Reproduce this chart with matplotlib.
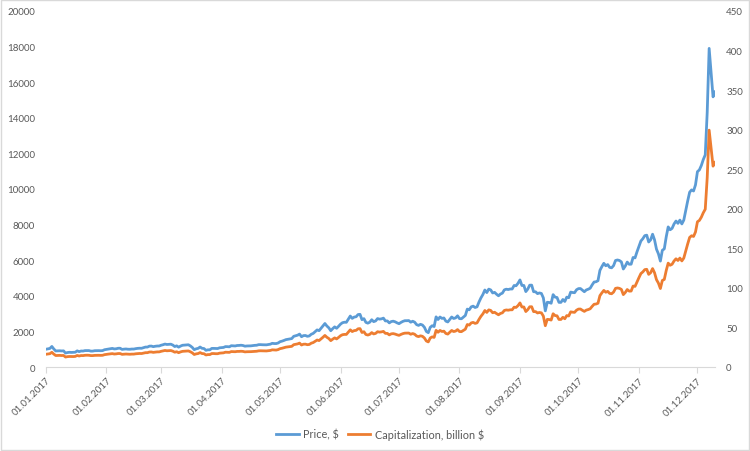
import matplotlib
matplotlib.use('Agg')
import matplotlib.pyplot as plt
import matplotlib.dates as mdates
import pandas as pd

# daily closes, 01.01.2017 - 10.12.2017, one list per month
price_jan = [998, 1021, 1043, 1154, 1013, 902, 908, 911, 902, 907, 785, 812, 826, 818, 822, 831,
             907, 862, 899, 895, 921, 924, 922, 892, 894, 915, 918, 919, 914, 920, 970]
price_feb = [989, 1008, 1029, 1045, 1015, 1024, 1052, 1054, 988, 1004, 1013, 999, 996, 1009, 1008,
             1031, 1047, 1055, 1052, 1085, 1120, 1120, 1171, 1176, 1143, 1165, 1179, 1180]
price_mar = [1222, 1251, 1288, 1265, 1275, 1281, 1233, 1150, 1188, 1116, 1176, 1221, 1231, 1240, 1249,
             1187, 1100, 973, 1022, 1047, 1123, 1050, 1038, 938, 965, 966, 1045, 1045, 1038, 1037, 1079]
price_apr = [1087, 1099, 1145, 1143, 1134, 1196, 1191, 1182, 1208, 1212, 1223, 1207, 1170, 1182, 1185,
             1188, 1205, 1216, 1222, 1255, 1257, 1250, 1250, 1245, 1265, 1282, 1330, 1317, 1316, 1348]
price_may = [1421, 1452, 1491, 1537, 1555, 1578, 1596, 1723, 1755, 1787, 1849, 1701, 1763, 1770, 1724,
             1746, 1839, 1888, 1987, 2084, 2041, 2174, 2303, 2443, 2304, 2202, 2038, 2155, 2255, 2175, 2286]
price_jun = [2407, 2488, 2515, 2512, 2691, 2863, 2732, 2805, 2823, 2947, 2958, 2660, 2717, 2507, 2464,
             2518, 2655, 2548, 2589, 2721, 2689, 2705, 2745, 2589, 2589, 2478, 2552, 2574, 2539, 2480]
price_jul = [2434, 2506, 2564, 2601, 2601, 2608, 2518, 2571, 2519, 2381, 2337, 2398, 2358, 2233, 1998,
             1929, 2228, 2319, 2273, 2817, 2668, 2810, 2730, 2754, 2577, 2530, 2671, 2810, 2726, 2758, 2875]
price_aug = [2718, 2710, 2804, 2895, 3253, 3213, 3378, 3419, 3342, 3381, 3651, 3884, 4073, 4325, 4181,
             4376, 4331, 4160, 4193, 4088, 4001, 4100, 4151, 4334, 4371, 4352, 4382, 4382, 4579, 4565, 4703]
price_sep = [4892, 4579, 4582, 4236, 4376, 4597, 4599, 4229, 4226, 4122, 4161, 4130, 3882, 3154, 3637,
             3625, 3582, 4065, 3924, 3905, 3631, 3630, 3792, 3682, 3926, 3892, 4208, 4185, 4174, 4338]
price_oct = [4403, 4409, 4317, 4229, 4328, 4370, 4426, 4611, 4773, 4789, 4848, 5429, 5640, 5825, 5687,
             5754, 5595, 5573, 5696, 5983, 6013, 5983, 5904, 5505, 5670, 5893, 5772, 5776, 6154, 6130, 6469]
price_nov = [6767, 7078, 7207, 7379, 7407, 7023, 7144, 7459, 7143, 6618, 6357, 5950, 6559, 6635, 7315,
             7871, 7708, 7790, 8036, 8200, 8071, 8253, 8038, 8253, 8791, 9330, 9819, 9949, 9889, 10233]
price_dec = [10975, 11075, 11323, 11657, 11916, 14291, 17899, 16569, 15178, 15455]

# capitalization, billion $
cap_jan = [16.1, 16.4, 16.8, 18.6, 16.3, 14.5, 14.6, 14.7, 14.5, 14.6, 12.6, 13.1, 13.3, 13.2, 13.2, 13.4,
           14.6, 13.9, 14.5, 14.4, 14.8, 14.9, 14.8, 14.4, 14.4, 14.7, 14.8, 14.8, 14.7, 14.8, 15.6]
cap_feb = [16.0, 16.3, 16.6, 16.9, 16.4, 16.6, 17.0, 17.0, 16.0, 16.2, 16.4, 16.2, 16.1, 16.3, 16.3,
           16.7, 16.9, 17.1, 17.0, 17.5, 18.1, 18.1, 18.9, 19.0, 18.5, 18.8, 19.1, 19.1]
cap_mar = [19.8, 20.3, 20.9, 20.5, 20.7, 20.8, 20.0, 18.7, 19.3, 18.1, 19.1, 19.8, 20.0, 20.1, 20.3,
           19.3, 17.9, 15.8, 16.6, 17.0, 18.2, 17.0, 16.8, 15.2, 15.7, 15.7, 17.0, 17.0, 16.8, 16.8, 17.5]
cap_apr = [17.7, 17.9, 18.7, 18.6, 18.5, 19.5, 19.4, 19.3, 19.7, 19.7, 19.9, 19.7, 19.1, 19.3, 19.3,
           19.4, 19.6, 19.8, 19.9, 20.4, 20.5, 20.4, 20.4, 20.3, 20.6, 20.9, 21.7, 21.5, 21.4, 22.0]
cap_may = [23.2, 23.7, 24.4, 25.1, 25.4, 25.8, 26.1, 28.2, 28.7, 29.2, 30.2, 27.8, 28.8, 28.9, 28.2,
           28.5, 30.1, 30.9, 32.5, 34.1, 33.4, 35.5, 37.6, 39.9, 37.6, 36.0, 33.3, 35.2, 36.8, 35.5, 37.4]
cap_jun = [39.5, 40.8, 41.2, 41.2, 44.1, 47.0, 44.8, 46.0, 46.3, 48.3, 48.5, 43.6, 44.6, 41.1, 40.4,
           41.3, 43.5, 41.8, 42.5, 44.6, 44.1, 44.4, 45.0, 42.5, 42.5, 40.6, 41.9, 42.2, 41.6, 40.7]
cap_jul = [40.0, 41.2, 42.2, 42.8, 42.8, 42.9, 41.4, 42.3, 41.4, 39.2, 38.4, 39.4, 38.8, 36.7, 32.9,
           31.7, 36.7, 38.1, 37.4, 46.3, 43.9, 46.2, 44.9, 45.3, 42.4, 41.6, 43.9, 46.2, 44.8, 45.4, 47.3]
cap_aug = [44.8, 44.7, 46.3, 47.8, 53.7, 53.0, 55.7, 56.4, 55.1, 55.8, 60.2, 64.1, 67.2, 71.4, 69.0,
           72.2, 71.5, 68.6, 69.2, 67.5, 66.0, 67.7, 68.5, 71.5, 72.1, 71.8, 72.3, 72.3, 75.6, 75.3, 77.6]
cap_sep = [81.0, 75.8, 75.9, 70.1, 72.5, 76.1, 76.2, 70.0, 70.0, 68.3, 68.9, 68.4, 64.3, 52.2, 60.2,
           60.0, 59.3, 67.3, 65.0, 64.7, 60.1, 60.1, 62.8, 61.0, 65.0, 64.5, 69.7, 69.3, 69.1, 71.8]
cap_oct = [73.2, 73.3, 71.7, 70.3, 71.9, 72.6, 73.6, 76.6, 79.3, 79.6, 80.6, 90.2, 93.7, 96.8, 94.5,
           95.6, 93.0, 92.6, 94.7, 99.4, 99.9, 99.4, 98.1, 91.5, 94.2, 97.9, 95.9, 96.0, 102.3, 101.9, 107.5]
cap_nov = [112.9, 118.1, 120.2, 123.1, 123.5, 117.1, 119.2, 124.4, 119.1, 110.4, 106.0, 99.2, 109.4, 110.7, 122.0,
           131.3, 128.6, 129.9, 134.0, 136.8, 134.6, 137.7, 134.1, 137.7, 146.6, 155.6, 163.8, 165.9, 165.0, 170.7]
cap_dec = [183.6, 185.3, 189.4, 195.0, 199.4, 239.1, 299.4, 277.2, 253.9, 258.6]

price = (price_jan + price_feb + price_mar + price_apr + price_may + price_jun + price_jul
         + price_aug + price_sep + price_oct + price_nov + price_dec)
cap = (cap_jan + cap_feb + cap_mar + cap_apr + cap_may + cap_jun + cap_jul
       + cap_aug + cap_sep + cap_oct + cap_nov + cap_dec)
dates = pd.date_range('2017-01-01', periods=len(price), freq='D')

blue = '#5B9BD5'
orange = '#ED7D31'
txt = '#595959'
plt.rcParams['font.family'] = ['Lato', 'DejaVu Sans']

fig = plt.figure(figsize=(7.5, 4.52), dpi=100)
ax = fig.add_axes([46 / 750, 1 - 368 / 452, (715 - 46) / 750, (368 - 12) / 452])
ax2 = ax.twinx()

l1, = ax.plot(dates, price, color=blue, lw=2.0, label='Price, $', solid_joinstyle='round')
l2, = ax2.plot(dates, cap, color=orange, lw=2.0, label='Capitalization, billion $', solid_joinstyle='round')

ax.set_xlim(dates[0], dates[-1])
ax.set_ylim(0, 20000)
ax2.set_ylim(0, 450)
ax.set_yticks(range(0, 20001, 2000))
ax2.set_yticks(range(0, 451, 50))

ax.xaxis.set_major_locator(mdates.MonthLocator())
ax.xaxis.set_major_formatter(mdates.DateFormatter('%d.%m.%Y'))
for lbl in ax.get_xticklabels():
    lbl.set_rotation(45)
    lbl.set_ha('right')
    lbl.set_rotation_mode('anchor')

for a in (ax, ax2):
    for s in a.spines.values():
        s.set_visible(False)
    a.tick_params(axis='y', length=0, labelsize=7, labelcolor=txt)
ax.spines['bottom'].set_visible(True)
ax.spines['bottom'].set_color('#D9D9D9')
ax.tick_params(axis='x', length=4, color='#D9D9D9', labelsize=7, labelcolor=txt, pad=2)
ax.tick_params(axis='y', pad=8)
ax2.tick_params(axis='y', pad=8)

fig.legend(handles=[l1, l2], loc='center', bbox_to_anchor=(380 / 750, 1 - 435 / 452), ncol=2,
           frameon=False, fontsize=7.8, labelcolor=txt, handlelength=2.1, handletextpad=0.4,
           columnspacing=0.8)

# chart border
fig.patches.append(plt.Rectangle((0.001, 0.002), 0.997, 0.995, transform=fig.transFigure,
                                 fill=False, edgecolor='#D9D9D9', lw=1))

fig.savefig('out.png', dpi=100)
